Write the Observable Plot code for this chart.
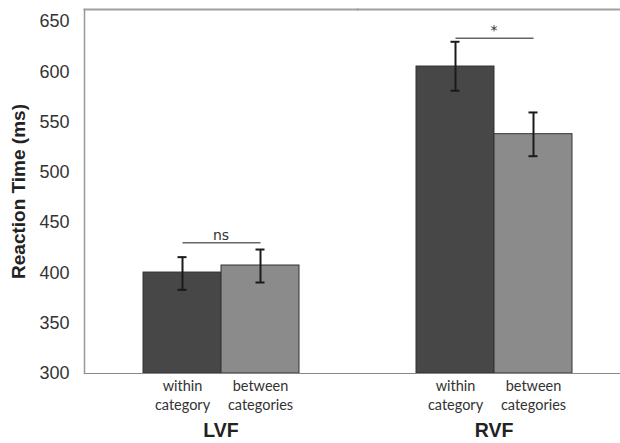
<!DOCTYPE html>
<html><head><meta charset="utf-8">
<script src="https://cdn.jsdelivr.net/npm/d3@7"></script>
<script src="https://cdn.jsdelivr.net/npm/@observablehq/plot@0.6"></script>
<style>body{margin:0;background:#fff}</style>
</head><body><div id="chart"></div>
<script>
const groups = ["LVF", "LVF", "RVF", "RVF"];
const conditions = ["within", "between", "within", "between"];
const means = [400.4, 407.4, 605.3, 538.0];
const errLow = [383.2, 390.5, 581.2, 516.1];
const errHigh = [415.7, 423.3, 629.9, 559.6];
const conditionKeys = ["within", "between"];
const conditionLabels = ["within\ncategory", "between\ncategories"];
const groupKeys = ["LVF", "RVF"];
const yTicks = [300, 350, 400, 450, 500, 550, 600, 650];
const sigGroups = ["LVF", "RVF"];
const sigValues = [430, 633.5];
const sigLabels = ["ns", "*"];

const rows = groups.map((g, i) => ({group: g, cond: conditions[i], mean: means[i], lo: errLow[i], hi: errHigh[i]}));
const sig = sigGroups.map((g, i) => ({group: g, y: sigValues[i], label: sigLabels[i], a: conditionKeys[0], b: conditionKeys[1]}));

const chart = Plot.plot({
  width: 620, height: 443,
  marginLeft: 83, marginRight: -10, marginTop: 9, marginBottom: 70,
  style: {fontFamily: "'Liberation Sans', Arial, sans-serif", background: "#fff", overflow: "hidden"},
  fx: {domain: groupKeys, paddingInner: 0, paddingOuter: 0},
  x: {domain: conditionKeys, paddingInner: 0, paddingOuter: 0.731},
  y: {domain: [300, 662]},
  color: {domain: conditionKeys, range: ["#474747", "#8b8b8b"]},
  marks: [
    Plot.barY(rows, {fx: "group", x: "cond", y1: 300, y2: "mean", fill: "cond", stroke: "#333", strokeWidth: 1}),
    Plot.ruleX(rows, {fx: "group", x: "cond", y1: "lo", y2: "hi", stroke: "#1a1a1a", strokeWidth: 2}),
    Plot.tickY(rows, {fx: "group", x: "cond", y: "lo", stroke: "#1a1a1a", strokeWidth: 2, insetLeft: 34.5, insetRight: 34.5}),
    Plot.tickY(rows, {fx: "group", x: "cond", y: "hi", stroke: "#1a1a1a", strokeWidth: 2, insetLeft: 34.5, insetRight: 34.5}),
    Plot.link(sig, {fx: "group", x1: "a", x2: "b", y1: "y", y2: "y", stroke: "#666", strokeWidth: 1.5}),
    Plot.text(sig, {fx: "group", y: "y", text: "label", lineAnchor: "bottom", dy: -3, fontSize: 14, fill: "#333", fontFamily: "'DejaVu Sans', sans-serif"}),
    Plot.frame({anchor: "top", stroke: "#a0a0a0", strokeWidth: 2}),
    Plot.frame({anchor: "bottom", stroke: "#888", strokeWidth: 1.2}),
    Plot.frame({anchor: "left", facetAnchor: "left", stroke: "#999", strokeWidth: 1.5}),
    Plot.axisY({ticks: yTicks, tickSize: 0, tickPadding: 15, fontSize: 18, color: "#333",
      label: "Reaction Time (ms)", labelAnchor: "center", labelArrow: "none", labelOffset: 73}),
    Plot.axisX({tickSize: 0, tickPadding: 4, fontSize: 14.5, lineHeight: 1.3, fontFamily: "Lato, sans-serif", color: "#333",
      tickFormat: d => conditionLabels[conditionKeys.indexOf(d)], label: null}),
    Plot.axisFx({anchor: "bottom", tickSize: 0, tickPadding: 50, fontSize: 19.5, fontWeight: "bold", color: "#222", label: null})
  ]
});
chart.querySelectorAll("g[aria-label='y-axis label'] text, g[aria-label='y-axis label']").forEach(e => { e.setAttribute("font-weight", "bold"); e.setAttribute("font-size", 19); e.setAttribute("fill", "#222"); });
document.getElementById("chart").appendChild(chart);
</script></body></html>
